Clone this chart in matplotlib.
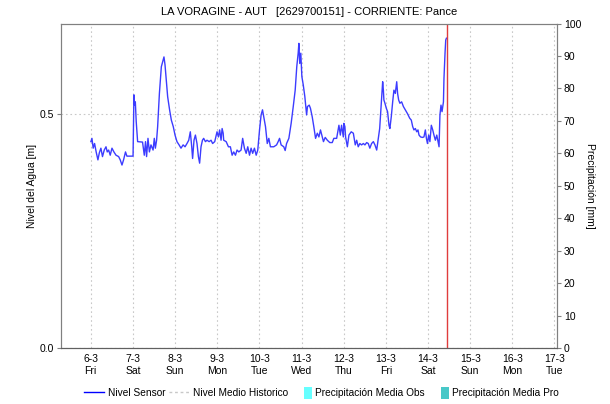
import numpy as np
import matplotlib
matplotlib.use("Agg")
from matplotlib import pyplot as plt
from matplotlib.lines import Line2D
from matplotlib.patches import Patch, Rectangle
from matplotlib.legend_handler import HandlerPatch

# horas desde 6-3 00:00 y nivel del sensor [m]
horas = [0.1, 0.7, 1.4, 2.2, 3.1, 4.1, 4.9, 5.8, 6.7, 7.7, 8.7, 9.4, 10.2, 11.1,
         12.1, 13.2, 14.4, 15.9, 16.8, 17.8, 18.7, 19.8, 20.6, 24.1, 24.6, 25.0,
         25.4, 25.9, 26.7, 29.5, 30.5, 31.2, 31.8, 32.6, 33.4, 34.3, 35.5, 36.2,
         36.8, 37.5, 38.1, 39.1, 40.2, 41.2, 41.7, 42.3, 43.0, 43.8, 44.9, 45.9,
         47.0, 48.0, 49.1, 50.3, 51.4, 52.6, 53.7, 54.8, 55.8, 56.7, 57.5, 58.0,
         58.8, 59.6, 60.5, 61.3, 62.0, 62.8, 63.6, 64.3, 65.3, 66.2, 67.4, 68.5,
         69.4, 70.6, 71.9, 72.7, 73.4, 74.2, 74.8, 75.4, 75.7, 77.1, 78.4, 79.5,
         80.5, 81.4, 82.4, 83.3, 84.3, 85.6, 86.5, 87.5, 88.5, 89.4, 90.4, 91.3,
         92.2, 93.2, 94.2, 95.1, 96.1, 97.0, 97.8, 98.5, 99.5, 100.5, 101.4, 102.3,
         104.2, 105.8, 106.7, 107.5, 108.4, 109.9, 110.7, 111.5, 112.8, 114.1,
         115.3, 116.4, 117.3, 118.1, 118.5, 119.0, 119.6, 120.2, 121.0, 121.9,
         122.9, 123.4, 124.4, 125.1, 126.1, 127.0, 128.0, 129.0, 129.9, 130.8,
         131.8, 132.5, 133.5, 134.7, 136.1, 137.5, 138.4, 140.0, 141.3, 142.1,
         142.8, 143.8, 144.1, 144.7, 145.1, 146.1, 147.0, 148.3, 149.5, 150.6,
         151.4, 152.3, 153.2, 154.2, 155.2, 156.1, 157.1, 158.0, 158.9, 159.9,
         160.9, 161.8, 162.8, 163.7, 164.5, 165.2, 165.8, 166.2, 166.6, 166.9,
         167.5, 168.3, 169.0, 169.8, 170.3, 171.1, 171.9, 172.6, 173.4, 174.2,
         174.7, 175.3, 176.0, 177.0, 178.0, 179.1, 180.3, 181.6, 182.5, 183.3,
         184.0, 184.8, 185.6, 186.3, 186.9, 187.8, 188.8, 189.7, 190.5, 191.1,
         191.7, 192.4, 193.1, 193.9, 194.7, 195.4, 196.2, 197.0, 197.7, 198.3,
         198.8, 199.4, 200.0, 200.8, 201.1, 201.7, 202.1, 202.5]
nivel = [0.441, 0.448, 0.427, 0.437, 0.419, 0.402, 0.417, 0.427, 0.409, 0.423,
         0.430, 0.419, 0.423, 0.412, 0.427, 0.419, 0.412, 0.409, 0.402, 0.391,
         0.402, 0.419, 0.410, 0.410, 0.541, 0.519, 0.526, 0.484, 0.441, 0.440,
         0.412, 0.441, 0.409, 0.448, 0.419, 0.434, 0.423, 0.448, 0.427, 0.444,
         0.473, 0.544, 0.601, 0.615, 0.622, 0.605, 0.573, 0.537, 0.509, 0.487,
         0.473, 0.455, 0.441, 0.434, 0.427, 0.434, 0.430, 0.437, 0.444, 0.462,
         0.430, 0.405, 0.444, 0.455, 0.437, 0.409, 0.395, 0.430, 0.444, 0.448,
         0.441, 0.444, 0.441, 0.444, 0.437, 0.441, 0.462, 0.451, 0.466, 0.444,
         0.469, 0.459, 0.444, 0.441, 0.430, 0.430, 0.412, 0.419, 0.412, 0.423,
         0.419, 0.423, 0.448, 0.427, 0.416, 0.430, 0.412, 0.427, 0.416, 0.427,
         0.412, 0.423, 0.466, 0.498, 0.509, 0.494, 0.473, 0.437, 0.448, 0.430,
         0.430, 0.434, 0.441, 0.448, 0.434, 0.430, 0.422, 0.437, 0.448, 0.480,
         0.516, 0.551, 0.601, 0.630, 0.651, 0.608, 0.630, 0.580, 0.562, 0.537,
         0.498, 0.516, 0.519, 0.512, 0.494, 0.473, 0.448, 0.459, 0.451, 0.466,
         0.451, 0.441, 0.450, 0.444, 0.439, 0.439, 0.448, 0.448, 0.476, 0.455,
         0.476, 0.451, 0.480, 0.473, 0.451, 0.430, 0.455, 0.462, 0.459, 0.434,
         0.444, 0.430, 0.437, 0.434, 0.437, 0.434, 0.439, 0.437, 0.427, 0.437,
         0.441, 0.434, 0.423, 0.448, 0.469, 0.509, 0.544, 0.569, 0.551, 0.530,
         0.523, 0.512, 0.505, 0.476, 0.469, 0.494, 0.526, 0.551, 0.544, 0.569,
         0.544, 0.530, 0.523, 0.526, 0.516, 0.509, 0.501, 0.491, 0.487, 0.473,
         0.466, 0.469, 0.462, 0.466, 0.455, 0.451, 0.450, 0.451, 0.466, 0.448,
         0.437, 0.455, 0.441, 0.476, 0.466, 0.455, 0.444, 0.455, 0.441, 0.430,
         0.498, 0.519, 0.505, 0.526, 0.576, 0.630, 0.658, 0.662]

dias = ["6-3", "7-3", "8-3", "9-3", "10-3", "11-3", "12-3", "13-3", "14-3",
        "15-3", "16-3", "17-3"]
semana = ["Fri", "Sat", "Sun", "Mon", "Tue", "Wed", "Thu", "Fri", "Sat",
          "Sun", "Mon", "Tue"]
hora_actual = 203.0   # 14-3 11:00

plt.rcParams["font.family"] = ["Liberation Sans", "DejaVu Sans"]
plt.rcParams["font.size"] = 7.5


def cuadro_estrecho(legend, orig_handle, xdescent, ydescent, width, height,
                    fontsize):
    # rectangulo angosto para las series de precipitacion
    return Rectangle((-xdescent + width - 6, -ydescent - 1), 6, height + 2)


fig = plt.figure(figsize=(6.1, 4.04), dpi=100)
ax = fig.add_axes([0.0993, 0.1386, 0.8138, 0.8032])
ax2 = ax.twinx()

x = np.array(horas) / 24.0
ax.plot(x, nivel, color="#3c3cff", lw=1.0)
ax.axvline(hora_actual / 24.0, color="#e03c3c", lw=1.0)

ax.set_xlim(-0.715, 11.06)
ax.set_ylim(0, 0.6934)
ax.set_yticks([0.0, 0.5])
ax.set_yticklabels(["0.0", "0.5"])
ax.set_xticks(range(len(dias)))
ax.set_xticklabels([d + "\n" + s for d, s in zip(dias, semana)],
                   linespacing=1.3)
ax.grid(True, color="#c8c8c8", ls=(0, (1.5, 2.5)), lw=0.8)

ax2.set_ylim(0, 100)
ax2.set_yticks(range(0, 101, 10))

for a in (ax, ax2):
    for side in ("left", "right", "top"):
        a.spines[side].set_color("#808080")
    a.spines["bottom"].set_color("#606060")
    a.spines["bottom"].set_linestyle((0, (1, 1)))
    a.tick_params(colors="#808080", labelcolor="black", length=3, width=0.8,
                  labelsize=7.5, pad=2)
ax.tick_params(axis="x", length=0, pad=4)

ax.set_ylabel("Nivel del Agua [m]", fontsize=7.5, labelpad=1.5)
ax2.set_ylabel("Precipitación [mm]", fontsize=7.5, rotation=270, labelpad=10)
ax.set_title("LA VORAGINE - AUT   [2629700151] - CORRIENTE: Pance",
             fontsize=8, pad=6)

handles = [Line2D([], [], color="#0000ff", lw=1.0),
           Line2D([], [], color="#c8c8c8", lw=1.0, ls=(0, (2, 2))),
           Patch(facecolor="#66ffff", edgecolor="none"),
           Patch(facecolor="#48c8c8", edgecolor="none")]
labels = ["Nivel Sensor", "Nivel Medio Historico", "Precipitación Media Obs",
          "Precipitación Media Pro"]
fig.legend(handles, labels, loc="center", bbox_to_anchor=(0.527, 0.027),
           ncol=4, frameon=False, fontsize=7.3, handlelength=2.0,
           handletextpad=0.3, columnspacing=0.4, handleheight=1.0,
           handler_map={Patch: HandlerPatch(patch_func=cuadro_estrecho)})

fig.savefig("out.png", dpi=100)
